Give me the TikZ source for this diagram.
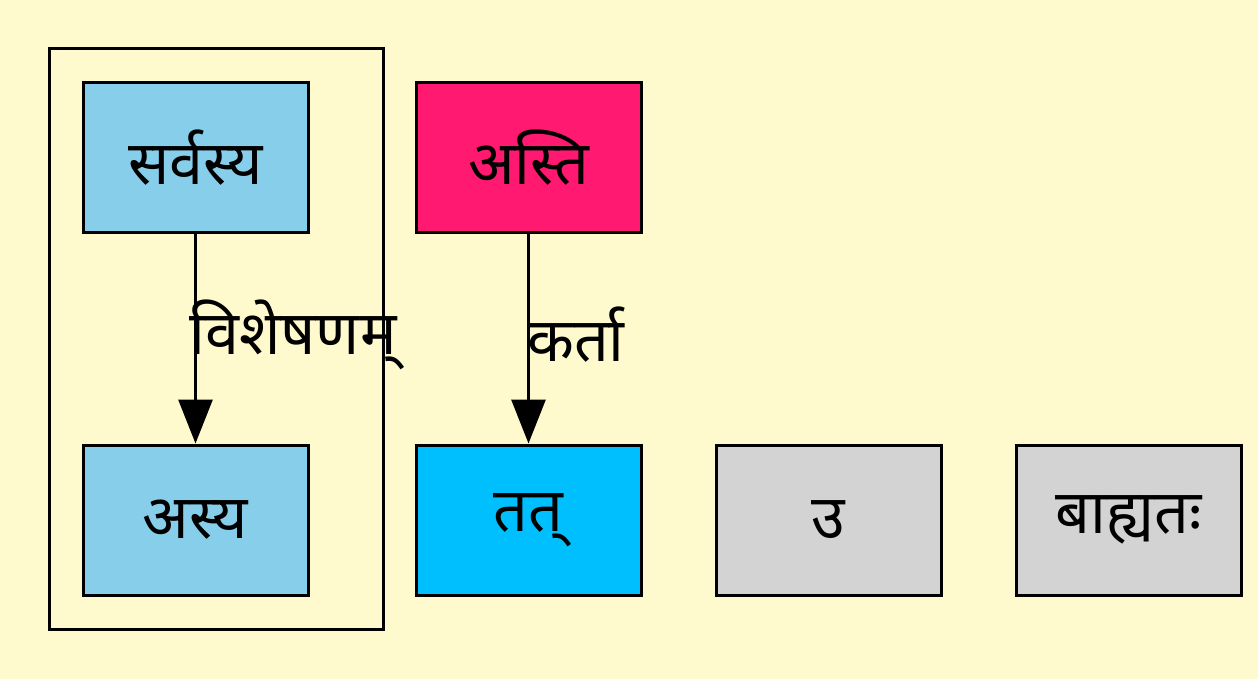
\documentclass[tikz,border=0pt]{standalone}
\usepackage{fontspec}
\newfontfamily\deva[Script=Devanagari]{Noto Sans}
\usetikzlibrary{arrows.meta}
\definecolor{bgc}{RGB}{255,250,205}
\definecolor{skyb}{RGB}{135,206,235}
\definecolor{pinkc}{RGB}{255,25,112}
\definecolor{dskyb}{RGB}{0,191,255}
\definecolor{lgray}{RGB}{211,211,211}
\tikzset{
  wordbox/.style={draw=black, line width=1.5pt, minimum width=112.5pt, minimum height=75pt, inner sep=0pt, font=\deva\fontsize{30.5}{34}\selectfont},
  edgelabel/.style={font=\deva\fontsize{30.5}{34}\selectfont, inner sep=0pt},
  rel/.style={line width=1.5pt, -{Triangle[length=22pt,width=17pt]}},
}
\begin{document}
\begin{tikzpicture}[x=0.5pt,y=-0.5pt]
\fill[bgc] (0,0) rectangle (1258,679);
\useasboundingbox (0,0) rectangle (1258,679);
\draw[line width=1.5pt] (49,49) rectangle (383,629);
\node[wordbox, fill=skyb] (sarvasya) at (195.5,158) {सर्वस्य};
\node[wordbox, fill=skyb] (asya) at (195.5,520) {अस्य};
\node[wordbox, fill=pinkc] (asti) at (528.5,158) {अस्ति};
\node[wordbox, fill=dskyb] (tat) at (528.5,520) {तत्};
\node[wordbox, fill=lgray] (u) at (828.5,520) {उ};
\node[wordbox, fill=lgray] (bahyatah) at (1128.5,520) {बाह्यतः};
\draw[rel] (sarvasya) -- (asya);
\draw[rel] (asti) -- (tat);
\node[edgelabel] (l1) at (293,335) {विशेषणम्};
\node[edgelabel] (l2) at (576,335) {कर्ता};
\end{tikzpicture}
\end{document}
